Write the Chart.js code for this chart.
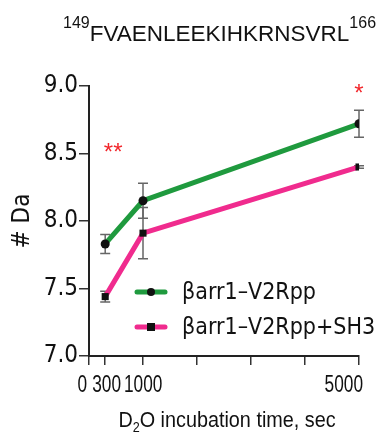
<!DOCTYPE html>
<html>
<head>
<meta charset="utf-8">
<script src="https://cdn.jsdelivr.net/npm/chart.js@4.4.1/dist/chart.umd.min.js"></script>
<style>
  html, body { margin: 0; padding: 0; background: #fff; }
  #wrap { width: 383px; height: 435px; }
</style>
</head>
<body>
<div id="wrap"><canvas id="myChart" width="383" height="435"></canvas></div>
<script>
// data
var times = [300, 1000, 5000];
var apoValues = [7.83, 8.15, 8.72];
var apoErrors = [0.07, 0.13, 0.10];
var sh3Values = [7.44, 7.91, 8.40];
var sh3Errors = [0.04, 0.19, 0.01];
var seriesNames = ['βarr1–V2Rpp', 'βarr1–V2Rpp+SH3'];

var xTicks = [0, 300, 1000, 2000, 3000, 4000, 5000];
var xTickLabels = ['0', '300', '1000', '', '', '', '5000'];
var yMin = 7.0, yMax = 9.0, yStep = 0.5;

// significance marks
var starTimes = [300, 5000];
var starValues = [8.53, 8.97];
var starTexts = ['**', '*'];

var GREEN = '#1f9a3e';
var PINK = '#f02b8e';
var NARROW = "'DejaVu Sans Condensed', 'Liberation Sans', sans-serif";
var REGULAR = "'Liberation Sans', Arial, sans-serif";

// Liberation Sans squeezed horizontally, the figure uses a narrow Helvetica
function narrowText(ctx, text, x, y, size, align, squeeze) {
  ctx.save();
  ctx.font = size + 'px ' + REGULAR;
  var w = ctx.measureText(text).width * squeeze;
  var left = align === 'right' ? x - w : (align === 'center' ? x - w / 2 : x);
  ctx.translate(left, y);
  ctx.scale(squeeze, 1);
  ctx.textAlign = 'left';
  ctx.fillText(text, 0, 0);
  ctx.restore();
  return w;
}

// error bars
var errorBars = {
  id: 'errorBars',
  beforeDatasetsDraw: function(chart) {
    var ctx = chart.ctx, x = chart.scales.x, y = chart.scales.y;
    var sets = [[apoValues, apoErrors], [sh3Values, sh3Errors]];
    ctx.save();
    ctx.strokeStyle = '#666';
    ctx.lineWidth = 1.5;
    sets.forEach(function(s) {
      for (var i = 0; i < times.length; i++) {
        var px = x.getPixelForValue(times[i]);
        var top = y.getPixelForValue(s[0][i] + s[1][i]);
        var bot = y.getPixelForValue(s[0][i] - s[1][i]);
        ctx.beginPath();
        ctx.moveTo(px, top); ctx.lineTo(px, bot);
        ctx.moveTo(px - 5, top); ctx.lineTo(px + 5, top);
        ctx.moveTo(px - 5, bot); ctx.lineTo(px + 5, bot);
        ctx.stroke();
      }
    });
    ctx.restore();
  }
};

// texts: title, x tick labels, x title, stars, legend
var extras = {
  id: 'extras',
  afterDraw: function(chart) {
    var ctx = chart.ctx, x = chart.scales.x, y = chart.scales.y;
    ctx.save();
    ctx.fillStyle = '#111';
    ctx.textBaseline = 'alphabetic';

    // title with superscripts
    var tx = 63;
    ctx.textAlign = 'left';
    ctx.font = '16px ' + REGULAR;
    ctx.fillText('149', tx, 28);
    tx += ctx.measureText('149').width;
    ctx.font = '22.5px ' + REGULAR;
    ctx.fillText('FVAENLEEKIHKRNSVRL', tx, 41);
    tx += ctx.measureText('FVAENLEEKIHKRNSVRL').width;
    ctx.font = '16px ' + REGULAR;
    ctx.fillText('166', tx, 28);

    // x tick labels
    var aligns = ['right', 'left', 'left', 'center', 'center', 'center', 'right'];
    var shifts = [-2, -13, -19, 0, 0, 0, 4];
    for (var i = 0; i < xTicks.length; i++) {
      if (!xTickLabels[i]) continue;
      narrowText(ctx, xTickLabels[i], x.getPixelForValue(xTicks[i]) + shifts[i], 392, 24, aligns[i], 0.72);
    }

    // x axis title with subscript
    var t1 = 'D', t2 = '2', t3 = 'O incubation time, sec';
    ctx.font = '22px ' + REGULAR;
    var w1 = ctx.measureText(t1).width * 0.9, w3 = ctx.measureText(t3).width * 0.9;
    ctx.font = '14px ' + REGULAR;
    var w2 = ctx.measureText(t2).width * 0.9;
    var sx = 227 - (w1 + w2 + w3) / 2;
    narrowText(ctx, t1, sx, 427, 22, 'left', 0.9);
    narrowText(ctx, t2, sx + w1, 432, 14, 'left', 0.9);
    narrowText(ctx, t3, sx + w1 + w2, 427, 22, 'left', 0.9);

    // stars
    ctx.fillStyle = '#f2262b';
    ctx.textAlign = 'center';
    ctx.textBaseline = 'middle';
    ctx.font = '24px ' + REGULAR;
    for (var k = 0; k < starTexts.length; k++) {
      ctx.fillText(starTexts[k], x.getPixelForValue(starTimes[k]) + (k === 0 ? 8 : 0), y.getPixelForValue(starValues[k]) + 4);
    }

    // legend
    var rows = [[GREEN, 'circle', 292], [PINK, 'rect', 327]];
    ctx.textBaseline = 'middle';
    ctx.font = '23px ' + NARROW;
    ctx.textAlign = 'left';
    rows.forEach(function(r, idx) {
      ctx.strokeStyle = r[0];
      ctx.lineWidth = 5;
      ctx.lineCap = 'round';
      ctx.beginPath();
      ctx.moveTo(137, r[2]); ctx.lineTo(165, r[2]);
      ctx.stroke();
      ctx.fillStyle = '#111';
      if (r[1] === 'circle') {
        ctx.beginPath(); ctx.arc(151, r[2], 4, 0, Math.PI * 2); ctx.fill();
      } else {
        ctx.fillRect(147, r[2] - 4, 8, 8);
      }
      ctx.fillText(seriesNames[idx], 182, r[2] + 1);
    });
    ctx.restore();
  }
};

var ctx = document.getElementById('myChart').getContext('2d');
var myChart = new Chart(ctx, {
  type: 'line',
  data: {
    datasets: [{
      label: seriesNames[0],
      data: times.map(function(t, i) { return { x: t, y: apoValues[i] }; }),
      borderColor: GREEN,
      borderWidth: 5,
      pointStyle: 'circle',
      pointRadius: 4.5,
      pointBackgroundColor: '#111',
      pointBorderColor: '#111',
      pointBorderWidth: 0,
      tension: 0
    }, {
      label: seriesNames[1],
      data: times.map(function(t, i) { return { x: t, y: sh3Values[i] }; }),
      borderColor: PINK,
      borderWidth: 5,
      pointStyle: 'rect',
      pointRadius: 5,
      pointBackgroundColor: '#111',
      pointBorderColor: '#111',
      pointBorderWidth: 0,
      tension: 0
    }]
  },
  options: {
    responsive: false,
    animation: false,
    devicePixelRatio: 1,
    layout: { padding: { top: 86, right: 24, left: 0, bottom: 0 } },
    plugins: {
      legend: { display: false },
      tooltip: { enabled: false }
    },
    scales: {
      x: {
        type: 'linear',
        min: 0,
        max: 5000,
        afterBuildTicks: function(scale) {
          scale.ticks = xTicks.map(function(v) { return { value: v }; });
        },
        afterFit: function(scale) { scale.height = 79; },
        ticks: { display: false },
        grid: { drawOnChartArea: false, tickLength: 9, color: '#333', lineWidth: 1.5 },
        border: { color: '#222', width: 2 }
      },
      y: {
        min: yMin,
        max: yMax,
        afterFit: function(scale) { scale.width = 89; },
        ticks: {
          stepSize: yStep,
          padding: 1,
          color: '#111',
          font: { family: NARROW, size: 24 },
          callback: function(v) { return v.toFixed(1); }
        },
        grid: { drawOnChartArea: false, tickLength: 10, color: '#333', lineWidth: 1.5 },
        border: { color: '#222', width: 2 },
        title: {
          display: true,
          text: '# Da',
          color: '#111',
          font: { family: NARROW, size: 24 },
          padding: { top: 8, bottom: 0 }
        }
      }
    }
  },
  plugins: [errorBars, extras]
});
</script>
</body>
</html>
